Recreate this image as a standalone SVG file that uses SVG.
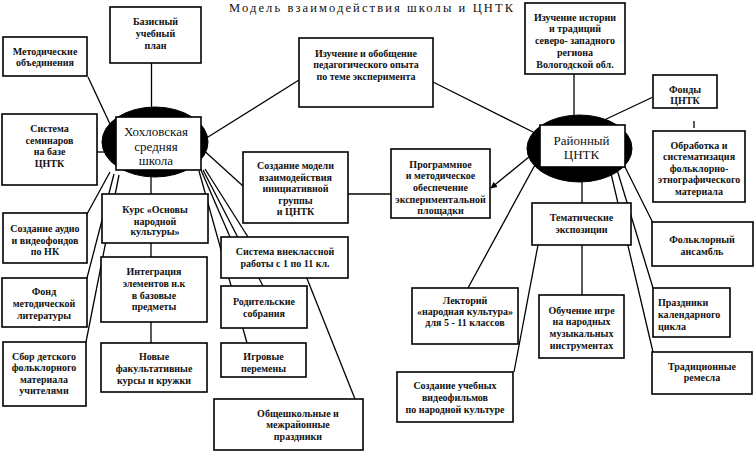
<svg xmlns="http://www.w3.org/2000/svg" width="755" height="451" viewBox="0 0 755 451">
<style>
.box{fill:#fff;stroke:#000;stroke-width:1.6}
.ell{fill:#000;stroke:#000}
.t{font-family:"Liberation Serif","Times New Roman",serif;font-size:10px;font-weight:bold;text-anchor:middle;fill:#111}
.l{text-anchor:start}
.big{font-size:13px;font-weight:normal}
.title{font-family:"Liberation Serif","Times New Roman",serif;font-size:12.5px;fill:#111}
#connectors line{stroke:#000;stroke-width:1.3;fill:none}
</style>
<defs>
<marker id="arr" viewBox="0 0 10 10" refX="9" refY="5" markerWidth="5" markerHeight="5" orient="auto">
<path d="M0,0 L10,5 L0,10 z" fill="#000"/>
</marker>
</defs>
<rect width="755" height="451" fill="#fff"/>
<text class="title" x="229" y="12" textLength="284" lengthAdjust="spacing">Модель взаимодействия школы и ЦНТК</text>

<g id="connectors">
<line x1="151.5" y1="63" x2="151.5" y2="110"/>
<line x1="88" y1="77" x2="110" y2="124"/>
<line x1="97" y1="152" x2="104" y2="152"/>
<line x1="200" y1="142" x2="299" y2="80"/>
<line x1="433" y1="82" x2="535" y2="133"/>
<line x1="200" y1="147" x2="243" y2="186"/>
<line x1="151" y1="170" x2="151" y2="194"/>
<line x1="151" y1="243" x2="151" y2="257"/>
<line x1="151" y1="322" x2="151" y2="343"/>
<line x1="110" y1="172" x2="87" y2="214"/>
<line x1="114" y1="174" x2="87" y2="278"/>
<line x1="119" y1="175" x2="86" y2="342"/>
<line x1="199" y1="171" x2="247" y2="343"/>
<line x1="201" y1="170" x2="230" y2="237"/>
<line x1="203" y1="170" x2="263" y2="286"/>
<line x1="205" y1="169" x2="248" y2="237"/>
<line x1="306" y1="276" x2="355" y2="399"/>
<line x1="348" y1="194" x2="391" y2="194"/>
<line x1="535" y1="152" x2="491" y2="188" marker-end="url(#arr)"/>
<line x1="536" y1="163" x2="468" y2="288"/>
<line x1="574" y1="74" x2="574" y2="120"/>
<line x1="600" y1="122" x2="653" y2="97"/>
<line x1="694" y1="121" x2="694" y2="128"/>
<line x1="582" y1="170" x2="582" y2="203"/>
<line x1="582" y1="245" x2="582" y2="295"/>
<line x1="538" y1="245" x2="514" y2="372"/>
<line x1="620" y1="157" x2="653" y2="223"/>
<line x1="615" y1="163" x2="653" y2="288"/>
<line x1="609" y1="165" x2="653" y2="352"/>
</g>

<g id="school">
<ellipse class="ell" cx="155" cy="142" rx="53" ry="35"/>
<rect class="box" x="116" y="117" width="85" height="53"/>
<text class="t big"><tspan x="156" y="136">Хохловская</tspan><tspan x="156" y="151">средняя</tspan><tspan x="156" y="165">школа</tspan></text>
</g>

<g id="cntk">
<ellipse class="ell" cx="579.5" cy="148.5" rx="52.5" ry="33.5"/>
<rect class="box" x="540" y="125" width="85" height="42"/>
<text class="t big"><tspan x="581.5" y="145">Районный</tspan><tspan x="581.5" y="159">ЦНТК</tspan></text>
</g>

<g id="bazisny">
<rect class="box" x="110" y="7" width="91" height="56"/>
<text class="t"><tspan x="155.5" y="25">Базисный</tspan><tspan x="155.5" y="37">учебный</tspan><tspan x="155.5" y="48.5">план</tspan></text>
</g>

<g id="metod">
<rect class="box" x="3" y="37" width="84" height="39"/>
<text class="t"><tspan x="45" y="55">Методические</tspan><tspan x="45" y="66">объединения</tspan></text>
</g>

<g id="seminar">
<rect class="box" x="2" y="114" width="95" height="71"/>
<text class="t"><tspan x="49.5" y="132">Система</tspan><tspan x="49.5" y="143.5">семинаров</tspan><tspan x="49.5" y="155">на базе</tspan><tspan x="49.5" y="167">ЦНТК</tspan></text>
</g>

<g id="audio">
<rect class="box" x="3" y="213" width="84" height="50"/>
<text class="t"><tspan x="45" y="232">Создание аудио</tspan><tspan x="45" y="243.5">и видеофондов</tspan><tspan x="45" y="255">по НК</tspan></text>
</g>

<g id="fond-lit">
<rect class="box" x="2" y="278" width="85" height="49"/>
<text class="t"><tspan x="44" y="295">Фонд</tspan><tspan x="44" y="307">методической</tspan><tspan x="44" y="318.5">литературы</tspan></text>
</g>

<g id="sbor">
<rect class="box" x="3" y="342" width="83" height="64"/>
<text class="t"><tspan x="44" y="359.5">Сбор детского</tspan><tspan x="44" y="371">фольклорного</tspan><tspan x="44" y="383">материала</tspan><tspan x="44" y="394">учителями</tspan></text>
</g>

<g id="kurs">
<rect class="box" x="102" y="194" width="106" height="49"/>
<text class="t"><tspan x="155" y="213">Курс «Основы</tspan><tspan x="155" y="224.5">народной</tspan><tspan x="155" y="235">культуры»</tspan></text>
</g>

<g id="integr">
<rect class="box" x="101" y="257" width="106" height="65"/>
<text class="t"><tspan x="154" y="275">Интеграция</tspan><tspan x="154" y="287">элементов н.к</tspan><tspan x="154" y="298.5">в базовые</tspan><tspan x="154" y="310">предметы</tspan></text>
</g>

<g id="novye">
<rect class="box" x="101" y="343" width="106" height="49"/>
<text class="t"><tspan x="154" y="360">Новые</tspan><tspan x="154" y="372">факультативные</tspan><tspan x="154" y="383.5">курсы и кружки</tspan></text>
</g>

<g id="izuch-obob">
<rect class="box" x="299" y="38" width="134" height="69"/>
<text class="t"><tspan x="366" y="57">Изучение и обобщение</tspan><tspan x="366" y="68">педагогического опыта</tspan><tspan x="366" y="79.5">по теме эксперимента</tspan></text>
</g>

<g id="model">
<rect class="box" x="243" y="152" width="105" height="71"/>
<text class="t"><tspan x="295.5" y="169">Создание модели</tspan><tspan x="295.5" y="180.5">взаимодействия</tspan><tspan x="295.5" y="192">инициативной</tspan><tspan x="295.5" y="203.5">группы</tspan><tspan x="295.5" y="215">и ЦНТК</tspan></text>
</g>

<g id="programm">
<rect class="box" x="391" y="149" width="99" height="69"/>
<text class="t"><tspan x="440.5" y="167.5">Программное</tspan><tspan x="440.5" y="179">и методическое</tspan><tspan x="440.5" y="190.5">обеспечение</tspan><tspan x="440.5" y="202.5">экспериментальной</tspan><tspan x="440.5" y="214">площадки</tspan></text>
</g>

<g id="vneklass">
<rect class="box" x="221" y="237" width="127" height="41"/>
<text class="t"><tspan x="285" y="255">Система внеклассной</tspan><tspan x="285" y="266.5">работы с 1 по 11 кл.</tspan></text>
</g>

<g id="roditel">
<rect class="box" x="221" y="286" width="86" height="42"/>
<text class="t"><tspan x="264" y="305">Родительские</tspan><tspan x="264" y="316.5">собрания</tspan></text>
</g>

<g id="igrovye">
<rect class="box" x="221" y="343" width="85" height="34"/>
<text class="t"><tspan x="263.5" y="360">Игровые</tspan><tspan x="263.5" y="371.5">перемены</tspan></text>
</g>

<g id="obshchesh">
<rect class="box" x="214" y="399" width="149" height="51"/>
<text class="t"><tspan x="298" y="417">Общешкольные и</tspan><tspan x="298" y="428">межрайонные</tspan><tspan x="298" y="439.5">праздники</tspan></text>
</g>

<g id="lektoriy">
<rect class="box" x="412" y="288" width="106" height="56"/>
<text class="t"><tspan x="465" y="303.5">Лекторий</tspan><tspan x="465" y="314.5">«народная культура»</tspan><tspan x="465" y="326">для 5 - 11 классов</tspan></text>
</g>

<g id="videofilm">
<rect class="box" x="397" y="372" width="116" height="50"/>
<text class="t"><tspan x="455" y="389">Создание учебных</tspan><tspan x="455" y="400.5">видеофильмов</tspan><tspan x="455" y="412.5">по народной культуре</tspan></text>
</g>

<g id="istoriya">
<rect class="box" x="525" y="3" width="100" height="71"/>
<text class="t"><tspan x="575" y="20.5">Изучение истории</tspan><tspan x="575" y="32">и традиций</tspan><tspan x="575" y="44">северо- западного</tspan><tspan x="575" y="56">региона</tspan><tspan x="575" y="67.5">Вологодской обл.</tspan></text>
</g>

<g id="fondy">
<rect class="box" x="653" y="75" width="64" height="33"/>
<text class="t"><tspan x="685" y="93">Фонды</tspan><tspan x="685" y="103.5">ЦНТК</tspan></text>
</g>

<g id="obrabotka">
<rect class="box" x="653" y="131" width="92" height="71"/>
<text class="t"><tspan x="699" y="148.5">Обработка и</tspan><tspan x="699" y="160">систематизация</tspan><tspan x="699" y="171.5">фольклорно-</tspan><tspan x="699" y="183">этнографического</tspan><tspan x="699" y="195">материала</tspan></text>
</g>

<g id="tematich">
<rect class="box" x="532" y="203" width="99" height="42"/>
<text class="t"><tspan x="581.5" y="221">Тематические</tspan><tspan x="581.5" y="233">экспозиции</tspan></text>
</g>

<g id="ansambl">
<rect class="box" x="652" y="222" width="101" height="44"/>
<text class="t"><tspan x="702" y="243">Фольклорный</tspan><tspan x="702" y="254.5">ансамбль</tspan></text>
</g>

<g id="prazdniki">
<rect class="box" x="653" y="288" width="77" height="49"/>
<text class="t l"><tspan x="658" y="306">Праздники</tspan><tspan x="658" y="317.5">календарного</tspan><tspan x="658" y="329.5">цикла</tspan></text>
</g>

<g id="remesla">
<rect class="box" x="652" y="352" width="100" height="42"/>
<text class="t"><tspan x="702" y="369.5">Традиционные</tspan><tspan x="702" y="381">ремесла</tspan></text>
</g>

<g id="obuchenie">
<rect class="box" x="539" y="295" width="85" height="63"/>
<text class="t"><tspan x="581.5" y="313.5">Обучение игре</tspan><tspan x="581.5" y="325">на народных</tspan><tspan x="581.5" y="337">музыкальных</tspan><tspan x="581.5" y="348.5">инструментах</tspan></text>
</g>
</svg>
